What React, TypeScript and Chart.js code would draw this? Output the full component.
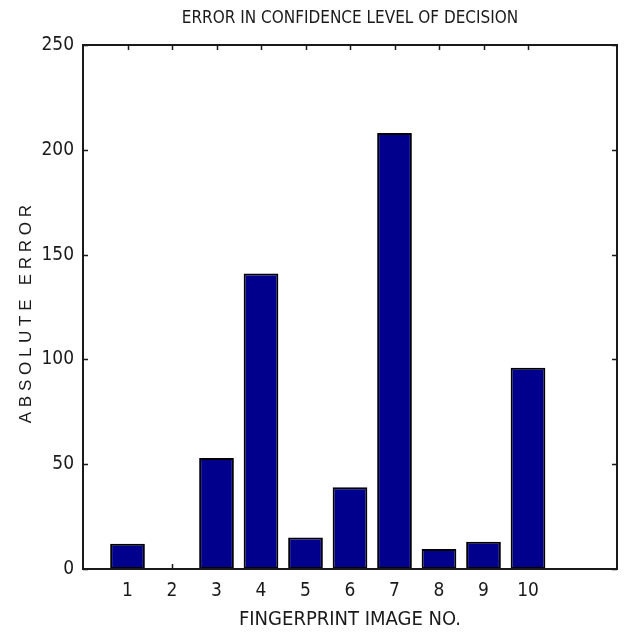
import React, { useEffect, useRef } from 'react';
import { Chart, registerables } from 'chart.js';

Chart.register(...registerables);

// Absolute error in the decision confidence level, per fingerprint image
const imageNumbers = [1, 2, 3, 4, 5, 6, 7, 8, 9, 10];
const absoluteErrors = [12, 0, 53, 141, 15, 39, 208, 9.5, 13, 96];
const yTickValues = [0, 50, 100, 150, 200, 250];
const xRange = [0, 12];

const NARROW = "'Liberation Sans Narrow', 'DejaVu Sans Condensed', 'Liberation Sans', sans-serif";
const REGULAR = "'Liberation Sans', Arial, sans-serif";
const INK = '#1a1a1a';

// MATLAB-style axes: a full box with tick marks pointing inward on all four sides
const boxAxes = {
  id: 'boxAxes',
  beforeDatasetsDraw(chart: any) {
    const { ctx, chartArea: a, scales } = chart;
    const x = scales.x;
    const y = scales.y;
    const len = 5;
    ctx.save();
    ctx.strokeStyle = INK;
    ctx.lineWidth = 1.5;
    ctx.beginPath();
    x.ticks.forEach((t: any) => {
      const px = Math.round(x.getPixelForValue(t.value)) + 0.5;
      ctx.moveTo(px, a.bottom);
      ctx.lineTo(px, a.bottom - len);
      ctx.moveTo(px, a.top);
      ctx.lineTo(px, a.top + len);
    });
    y.ticks.forEach((t: any) => {
      const py = Math.round(y.getPixelForValue(t.value)) + 0.5;
      ctx.moveTo(a.left, py);
      ctx.lineTo(a.left + len, py);
      ctx.moveTo(a.right, py);
      ctx.lineTo(a.right - len, py);
    });
    ctx.stroke();
    ctx.restore();
  },
  afterDatasetsDraw(chart: any) {
    const { ctx, chartArea: a } = chart;
    ctx.save();
    ctx.strokeStyle = INK;
    ctx.lineWidth = 2;
    ctx.strokeRect(a.left, a.top, a.right - a.left, a.bottom - a.top);
    ctx.restore();
  },
};

export default function App() {
  const canvasRef = useRef<HTMLCanvasElement | null>(null);

  useEffect(() => {
    const canvas = canvasRef.current;
    if (!canvas) return;
    const chart = new Chart(canvas, {
      type: 'bar',
      data: {
        datasets: [
          {
            data: imageNumbers.map((n, i) => ({ x: n, y: absoluteErrors[i] })),
            backgroundColor: '#00008c',
            borderColor: '#000000',
            borderWidth: 2,
            borderSkipped: false,
            barPercentage: 0.78,
            categoryPercentage: 1,
          },
        ],
      },
      options: {
        animation: false,
        responsive: true,
        maintainAspectRatio: false,
        layout: { padding: { left: 0, right: 7, top: 0, bottom: 0 } },
        plugins: {
          legend: { display: false },
          tooltip: { enabled: false },
          title: {
            display: true,
            fullSize: false,
            text: 'ERROR IN CONFIDENCE LEVEL OF DECISION',
            color: INK,
            font: { family: NARROW, size: 17, weight: 'normal' },
            padding: { top: 8, bottom: 16.6 },
          },
        },
        scales: {
          x: {
            type: 'linear',
            offset: false,
            min: xRange[0],
            max: xRange[1],
            grid: { display: false, drawTicks: false },
            border: { display: false },
            afterBuildTicks: (axis: any) => {
              axis.ticks = imageNumbers.map((v) => ({ value: v }));
            },
            afterFit: (axis: any) => {
              axis.height = 66;
            },
            ticks: {
              color: INK,
              font: { family: NARROW, size: 19 },
              padding: 11,
              maxRotation: 0,
              autoSkip: false,
              callback: (v: any) => String(v),
            },
            title: {
              display: true,
              text: 'FINGERPRINT IMAGE NO.',
              color: INK,
              font: { family: NARROW, size: 20 },
              padding: { top: 0, bottom: 3 },
            },
          },
          y: {
            type: 'linear',
            min: yTickValues[0],
            max: yTickValues[yTickValues.length - 1],
            grid: { display: false, drawTicks: false },
            border: { display: false },
            afterBuildTicks: (axis: any) => {
              axis.ticks = yTickValues.map((v) => ({ value: v }));
            },
            afterFit: (axis: any) => {
              axis.width = 83;
            },
            ticks: {
              color: INK,
              font: { family: NARROW, size: 19 },
              padding: 9,
              callback: (v: any) => String(v),
            },
            title: {
              display: true,
              text: 'A B S O L U T E   E R R O R   ',
              color: INK,
              font: { family: REGULAR, size: 17 },
              padding: { top: 16, bottom: 0 },
            },
          },
        },
      },
      plugins: [boxAxes],
    });
    return () => chart.destroy();
  }, []);

  return (
    <div style={{ position: 'absolute', left: 0, top: 0, width: 624, height: 635, background: '#ffffff' }}>
      <canvas ref={canvasRef} />
    </div>
  );
}
